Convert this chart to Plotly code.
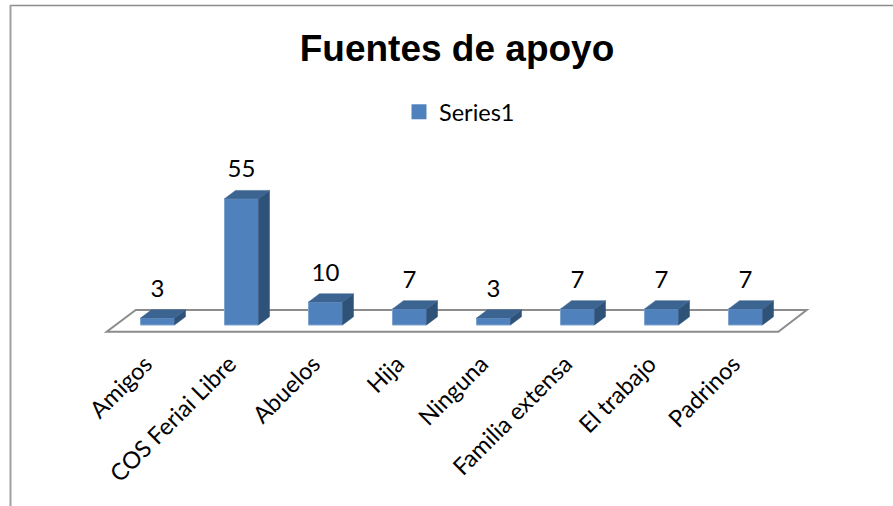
import plotly.graph_objects as go

categories = ["Amigos", "COS Feriai Libre", "Abuelos", "Hija", "Ninguna",
              "Familia extensa", "El trabajo", "Padrinos"]
values = [3, 55, 10, 7, 3, 7, 7, 7]
positions = list(range(len(categories)))

W, H = 893, 506
L, R, T, B = 60, 60, 130, 170          # plot-area margins
X0_PX, CAT_PX = 157.5, 84.0            # px of first category, px per category
Y0_PX, UNIT_PX = 325.0, 2.296          # px of value 0, px per unit

def px_x(p): return (p - X0_PX) / CAT_PX
def px_y(p): return (Y0_PX - p) / UNIT_PX
def paper_x(p): return (p - L) / (W - L - R)
def paper_y(p): return 1 - (p - T) / (H - T - B)

BAR_W = 34 / CAT_PX
DX, DY = 11 / CAT_PX, 8.3 / UNIT_PX
FRONT, TOP, SIDE = "#4F81BD", "#3C6491", "#2F5279"

side_x, side_y, top_x, top_y = [], [], [], []
for p, v in zip(positions, values):
    r = p + BAR_W / 2
    l = p - BAR_W / 2
    side_x += [r, r + DX, r + DX, r, r, None]
    side_y += [0, DY, v + DY, v, 0, None]
    top_x += [l, r, r + DX, l + DX, l, None]
    top_y += [v, v, v + DY, v + DY, v, None]

fig = go.Figure()
fig.add_trace(go.Bar(x=positions, y=values, width=BAR_W, name="Series1", showlegend=False,
                     marker=dict(color=FRONT, line=dict(color="#7FA3D0", width=1))))
fig.add_trace(go.Scatter(x=[None], y=[None], mode="markers", name="Series1",
                         marker=dict(symbol="square", size=15, color=FRONT), hoverinfo="skip"))
for xs, ys, col in [(side_x, side_y, SIDE), (top_x, top_y, TOP)]:
    fig.add_trace(go.Scatter(x=xs, y=ys, mode="lines", fill="toself", fillcolor=col,
                             line=dict(color=col, width=0.5), showlegend=False,
                             hoverinfo="skip"))
fig.add_trace(go.Scatter(x=positions, y=[v + DY + 19 / UNIT_PX for v in values],
                         mode="text", text=[str(v) for v in values],
                         textposition="middle center",
                         textfont=dict(family="Lato", size=24, color="#000000"),
                         showlegend=False, hoverinfo="skip"))

floor = dict(type="path", layer="below", xref="x", yref="y",
             path="M {} {} L {} {} L {} {} L {} {} Z".format(
                 px_x(106.7), px_y(331.7), px_x(778.3), px_y(331.7),
                 px_x(806.7), px_y(310), px_x(135.7), px_y(310)),
             line=dict(color="#8C8C8C", width=2), fillcolor="#FFFFFF")
border_top = dict(type="line", xref="paper", yref="paper", layer="below",
                  x0=paper_x(10), x1=paper_x(893), y0=paper_y(5.5), y1=paper_y(5.5),
                  line=dict(color="#8C8C8C", width=1.5))
border_left = dict(type="line", xref="paper", yref="paper", layer="below",
                   x0=paper_x(10.5), x1=paper_x(10.5), y0=paper_y(5), y1=paper_y(506),
                   line=dict(color="#A0A0A0", width=2))

fig.update_layout(
    width=W, height=H, autosize=False,
    margin=dict(l=L, r=R, t=T, b=B, pad=0),
    paper_bgcolor="#FFFFFF", plot_bgcolor="rgba(0,0,0,0)",
    shapes=[floor, border_top, border_left],
    title=dict(text="<b>Fuentes de apoyo</b>", x=457 / W, xanchor="center",
               y=1 - 48 / H, yanchor="middle",
               font=dict(family="Liberation Sans", size=37, color="#000000")),
    showlegend=True,
    legend=dict(x=paper_x(399), xanchor="left", y=paper_y(112), yanchor="middle",
                bgcolor="rgba(0,0,0,0)",
                font=dict(family="Lato", size=23.5, color="#000000")),
    xaxis=dict(range=[px_x(L), px_x(W - R)], tickmode="array", tickvals=positions,
               ticktext=categories, tickangle=-45, showgrid=False, zeroline=False,
               showline=False, ticks="outside", ticklen=4, tickcolor="rgba(0,0,0,0)",
               ticklabelshift=-12,
               tickfont=dict(family="Lato", size=23.5, color="#000000"), automargin=False),
    yaxis=dict(range=[px_y(H - B), px_y(T)], showgrid=False, zeroline=False,
               showline=False, showticklabels=False, ticks="", automargin=False),
)
fig.write_html("out.html", config={"displayModeBar": False},
               post_script="document.body.style.margin='0';window.dispatchEvent(new Event('resize'));")
